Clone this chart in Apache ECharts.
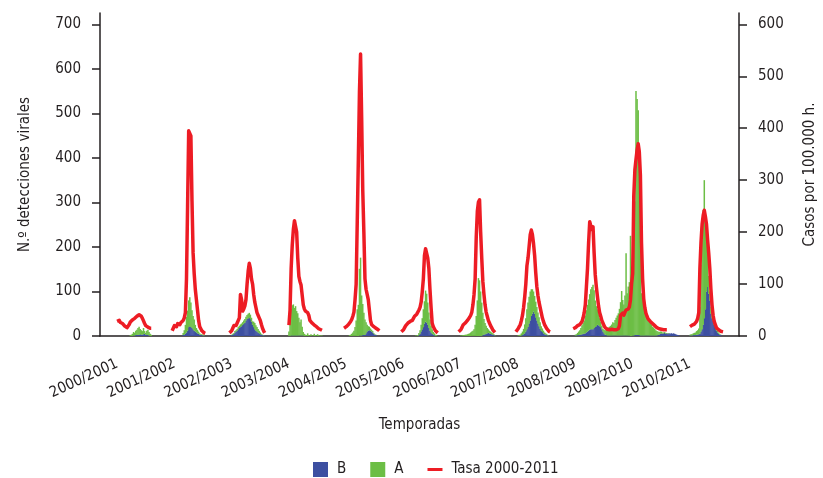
<!DOCTYPE html>
<html>
<head>
<meta charset="utf-8">
<title>Detecciones virales y tasa 2000-2011</title>
<script src="https://cdn.jsdelivr.net/npm/echarts@6.0.0/dist/echarts.min.js"></script>
<style>
    html, body { margin: 0; padding: 0; background: #fff; }
    .chart { width: 823px; height: 478px; }
</style>
</head>
<body>
<div class="chart"></div>
<script>
// temporadas (eje X)
var seasons = ['2000/2001', '2001/2002', '2002/2003', '2003/2004', '2004/2005', '2005/2006',
    '2006/2007', '2007/2008', '2008/2009', '2009/2010', '2010/2011'];

var leftTicks = [0, 100, 200, 300, 400, 500, 600, 700];
var rightTicks = [0, 100, 200, 300, 400, 500, 600];

// tasa semanal por 100.000 h., cada temporada empieza 2 semanas antes de su marca
var tasa = [
    [null, null, 28, 27, 30, 26, 25, 24, 22, 19, 17, 16, 18, 22, 27, 29, 31, 33, 34, 36, 38, 40, 41, 40, 38, 34, 29, 24, 20, 18, 17, 16, 15, 15],
    [10, 15, 20, 22, 18, 24, 25, 22, 26, 28, 30, 35, 45, 110, 250, 395, 392, 385, 260, 160, 120, 90, 70, 50, 30, 18, 14, 10, 8, 6, 5],
    [6, 8, 10, 15, 20, 22, 20, 25, 28, 35, 80, 70, 48, 52, 58, 70, 100, 125, 140, 130, 110, 100, 80, 65, 55, 45, 40, 35, 30, 22, 15, 10, 6],
    [null, null, 21, 50, 130, 175, 205, 222, 220, 200, 150, 115, 105, 98, 95, 60, 52, 48, 46, 45, 40, 30, 27, 25, 23, 21, 20, 18, 16, 14, 13, 12, 11],
    [15, 17, 18, 20, 22, 25, 28, 32, 38, 46, 70, 100, 220, 340, 470, 543, 420, 280, 200, 110, 90, 80, 70, 50, 30, 22, 20, 18, 17, 15, 13, 12, 10],
    [8, 10, 12, 16, 20, 22, 25, 24, 28, 31, 30, 34, 38, 40, 42, 45, 50, 55, 65, 85, 110, 155, 168, 165, 150, 130, 90, 55, 25, 18, 14, 10, 8, 6],
    [8, 10, 12, 16, 21, 22, 25, 27, 30, 32, 36, 40, 46, 60, 80, 110, 190, 240, 258, 262, 200, 150, 105, 80, 60, 46, 38, 30, 25, 20, 16, 12, 9, 7],
    [8, 10, 14, 18, 22, 30, 40, 55, 75, 100, 135, 150, 152, 195, 204, 195, 178, 155, 122, 95, 78, 65, 55, 45, 35, 28, 22, 18, 14, 11, 9, 8],
    [14, 15, 16, 18, 20, 21, 22, 24, 28, 35, 45, 60, 95, 130, 180, 220, 212, 205, 210, 160, 118, 95, 76, 58, 45, 38, 30, 25, 20, 16, 14, 13,
        13, 12, 12, 13, 12, 12, 13, 12, 13, 14, 20, 40, 42, 44, 40, 46, 50, 48, 52, 56],
    [70, 101, 120, 270, 320, 340, 358, 370, 355, 310, 180, 110, 72, 55, 44, 38, 33, 31, 28, 26, 24, 22, 20, 18, 16, 15, 14, 14, 13, 13, 12, 12, 12, 12],
    [null, null, 18, 20, 21, 22, 23, 25, 28, 34, 45, 130, 180, 215, 232, 242, 230, 215, 185, 160, 130, 90, 60, 40, 28, 22, 16, 13, 12, 10, 9, 8, 8]
];

// detecciones de virus A
var virusA = [
    [0, 0, 0, 0, 0, 0, 0, 0, 0, 0, 0, 0, 0, 0, 2, 3, 5, 8, 6, 10, 12, 15, 18, 12, 10, 8, 14, 6, 4, 10, 12, 8, 5, 3],
    [0, 0, 0, 0, 0, 0, 0, 0, 0, 0, 5, 10, 20, 35, 45, 60, 65, 55, 40, 30, 25, 15, 10, 8, 5, 3, 2, 2, 2, 2],
    [0, 0, 1, 2, 2, 3, 3, 4, 5, 5, 6, 6, 6, 7, 8, 8, 9, 10, 10, 10, 9, 8, 12, 14, 12, 10, 8, 6, 4, 2, 1, 1, 0],
    [0, 0, 10, 45, 60, 68, 70, 62, 66, 55, 50, 40, 30, 36, 20, 8, 5, 3, 2, 6, 2, 1, 4, 1, 1, 5, 2, 1, 4, 2, 1, 1, 1],
    [0, 0, 0, 0, 0, 2, 3, 5, 8, 12, 20, 35, 60, 70, 150, 175, 90, 70, 50, 35, 25, 15, 10, 8, 5, 4, 3, 2, 1, 1],
    [0, 0, 0, 0, 0, 0, 0, 0, 0, 0, 0, 0, 0, 1, 1, 2, 5, 8, 15, 25, 40, 50, 70, 65, 50, 35, 25, 15, 10, 6, 4, 3, 2],
    [0, 0, 1, 1, 2, 2, 3, 3, 4, 5, 6, 8, 10, 12, 15, 25, 45, 80, 130, 125, 100, 75, 50, 35, 25, 18, 12, 8, 6, 5, 4, 3, 2, 1],
    [0, 0, 1, 2, 3, 5, 8, 12, 20, 30, 45, 55, 60, 65, 60, 55, 45, 40, 35, 30, 25, 20, 15, 10, 8, 6, 4, 3, 2, 1],
    [0, 0, 2, 3, 5, 8, 10, 15, 20, 25, 30, 40, 50, 60, 70, 80, 90, 95, 100, 85, 60, 45, 35, 25, 18, 12, 8, 6, 8, 10, 12, 15,
        18, 20, 22, 25, 30, 28, 35, 40, 45, 50, 60, 75, 100, 80, 70, 90, 185, 95, 110, 120],
    [225, 130, 150, 230, 300, 548, 530, 505, 380, 330, 95, 88, 75, 60, 50, 42, 35, 30, 28, 25, 20, 18, 15, 12, 10, 8, 6, 5, 4, 3, 2, 2, 2, 1, 1, 1],
    [0, 0, 2, 3, 3, 4, 5, 6, 8, 10, 13, 60, 150, 200, 258, 310, 198, 145, 90, 40, 20, 15, 12, 10, 8, 6, 5, 4, 3, 2, 1]
];

// detecciones de virus B
var virusB = [
    [0, 0, 0, 0, 0, 0, 0, 0, 0, 0, 0, 0, 0, 0, 0, 0, 0, 1, 1, 2, 2, 3, 3, 4, 3, 3, 4, 5, 3, 2, 2, 1],
    [0, 0, 0, 0, 0, 0, 0, 0, 0, 0, 2, 3, 5, 8, 12, 20, 22, 20, 18, 15, 12, 10, 8, 6, 5, 3, 2, 2, 1, 1],
    [0, 0, 2, 3, 5, 8, 10, 12, 15, 18, 20, 22, 25, 28, 30, 35, 38, 40, 42, 38, 32, 25, 20, 15, 12, 10, 8, 6, 4, 3, 2, 1, 1],
    [0, 0, 0, 0, 1, 1, 1, 1, 1, 1, 1, 1, 1, 1, 1, 1],
    [0, 0, 0, 0, 0, 0, 0, 0, 0, 0, 0, 0, 0, 0, 1, 1, 1, 2, 2, 2, 6, 10, 12, 13, 12, 10, 8, 5, 3, 2],
    [0, 0, 0, 0, 0, 0, 0, 0, 0, 0, 0, 0, 0, 0, 0, 0, 2, 5, 10, 15, 20, 28, 32, 30, 25, 18, 12, 8, 5, 3, 2],
    [0, 0, 0, 0, 0, 0, 0, 0, 0, 0, 0, 0, 0, 0, 0, 0, 0, 0, 0, 0, 0, 0, 2, 3, 4, 5, 6, 7, 6, 5, 4, 3, 2],
    [0, 0, 0, 0, 0, 1, 2, 4, 6, 10, 15, 20, 28, 35, 45, 50, 55, 50, 42, 35, 28, 22, 16, 12, 9, 6, 4, 3, 2, 1],
    [0, 0, 1, 1, 2, 2, 3, 3, 4, 5, 5, 6, 8, 10, 12, 14, 15, 15, 15, 18, 20, 22, 25, 24, 22, 20, 15, 10,
        6, 3, 2, 1, 1, 1, 1, 1, 1, 1, 1, 1, 1, 1, 1, 1, 1, 1, 1, 1, 1, 1, 1, 1],
    [0, 0, 1, 1, 2, 2, 2, 2, 2, 1, 1, 1, 1, 1, 1, 1, 1, 1, 1, 1, 1, 1, 1, 1, 1, 2, 3, 5, 6, 5, 6, 7, 5, 6, 5, 6, 5, 6, 5, 6, 5, 4, 3, 2, 1],
    [0, 0, 1, 1, 1, 2, 2, 2, 3, 3, 4, 5, 10, 15, 25, 40, 60, 100, 110, 95, 80, 50, 40, 35, 25, 20, 12, 8, 5, 3, 2]
];

var totalWeeks = 580;   // semanas visibles en el eje
var firstTick = 15;     // semana de la primera marca
var weeksPerSeason = 52;
var leadWeeks = 2;

document.addEventListener('DOMContentLoaded', function () {
    (function () {
        var font = "'Liberation Sans Narrow', 'DejaVu Sans Condensed', 'Liberation Sans', sans-serif";
        var ink = '#231f20';
        var fs = 15;

        var categories = [], lineData = [], dataA = [], dataB = [], isStart = {};
        for (var i = 0; i < totalWeeks; i++) {
            categories.push('s' + i);
            lineData.push(null);
            dataA.push(null);
            dataB.push(null);
        }
        seasons.forEach(function (name, k) {
            var tickIdx = firstTick + k * weeksPerSeason;
            var start = tickIdx - leadWeeks;
            categories[tickIdx] = name;
            isStart[tickIdx] = true;
            tasa[k].forEach(function (v, j) { lineData[start + j] = v; });
            virusA[k].forEach(function (v, j) { dataA[start + j] = v; });
            virusB[k].forEach(function (v, j) { dataB[start + j] = v; });
        });
        var showStart = function (index) { return !!isStart[index]; };

        window.fluChart = echarts.init(document.querySelector('.chart'));
        var option = {
            animation: false,
            textStyle: { fontFamily: font, color: ink },
            grid: {
                left: 100,
                right: 84,
                top: 13,
                bottom: 142,
                containLabel: false,
                outerBoundsMode: 'none'
            },
            legend: {
                left: 313,
                top: 462,
                padding: 0,
                itemWidth: 15,
                itemHeight: 15,
                itemGap: 24,
                textStyle: { fontFamily: font, fontSize: fs, color: ink, padding: [0, 0, 0, 4] },
                data: [
                    { name: 'B', icon: 'rect' },
                    { name: 'A', icon: 'rect' },
                    {
                        name: 'Tasa 2000-2011',
                        icon: 'path://M0,0L0,0M0,6L15,6L15,9L0,9ZM15,15L15,15',
                        itemStyle: { color: '#ed1c24' }
                    }
                ]
            },
            xAxis: {
                type: 'category',
                data: categories,
                name: 'Temporadas',
                nameLocation: 'middle',
                nameGap: 82,
                nameTextStyle: { fontFamily: font, fontSize: fs, color: ink },
                axisLine: { lineStyle: { color: ink, width: 1.5 } },
                axisTick: {
                    interval: showStart,
                    alignWithLabel: true,
                    length: 10,
                    lineStyle: { color: ink, width: 2 }
                },
                axisLabel: {
                    interval: showStart,
                    rotate: 25,
                    margin: 27,
                    fontFamily: font,
                    fontSize: fs,
                    color: ink
                },
                splitLine: { show: false }
            },
            yAxis: [
                {
                    type: 'value',
                    position: 'left',
                    min: 0,
                    max: 725.4,
                    name: 'N.º detecciones virales',
                    nameLocation: 'middle',
                    nameGap: 67,
                    nameTextStyle: { fontFamily: font, fontSize: fs, color: ink },
                    axisLine: { show: true, lineStyle: { color: ink, width: 1.5 } },
                    axisTick: { show: true, length: 8, customValues: leftTicks, lineStyle: { color: ink, width: 1.5 } },
                    axisLabel: { customValues: leftTicks, margin: 19, fontFamily: font, fontSize: fs, color: ink },
                    splitLine: { show: false }
                },
                {
                    type: 'value',
                    position: 'right',
                    min: 0,
                    max: 621.8,
                    name: 'Casos por 100.000 h.',
                    nameLocation: 'middle',
                    nameGap: 64,
                    nameTextStyle: { fontFamily: font, fontSize: fs, color: ink },
                    axisLine: { show: true, lineStyle: { color: ink, width: 1.5 } },
                    axisTick: { show: true, length: 8, customValues: rightTicks, lineStyle: { color: ink, width: 1.5 } },
                    axisLabel: { customValues: rightTicks, margin: 19, fontFamily: font, fontSize: fs, color: ink },
                    splitLine: { show: false }
                }
            ],
            series: [
                {
                    name: 'B',
                    type: 'bar',
                    stack: 'det',
                    data: dataB,
                    barWidth: 1.5,
                    itemStyle: { color: '#3d4fa1' }
                },
                {
                    name: 'A',
                    type: 'bar',
                    stack: 'det',
                    data: dataA,
                    barWidth: 1.5,
                    itemStyle: { color: '#6cbe45' }
                },
                {
                    name: 'Tasa 2000-2011',
                    type: 'line',
                    yAxisIndex: 1,
                    data: lineData,
                    symbol: 'none',
                    connectNulls: false,
                    z: 5,
                    lineStyle: { color: '#ed1c24', width: 3.5, join: 'round' },
                    itemStyle: { color: '#ed1c24' }
                }
            ]
        };
        window.fluChart.setOption(option);
        window.addEventListener('resize', function () {
            window.fluChart.resize();
        });
    })();
});
</script>
</body>
</html>
